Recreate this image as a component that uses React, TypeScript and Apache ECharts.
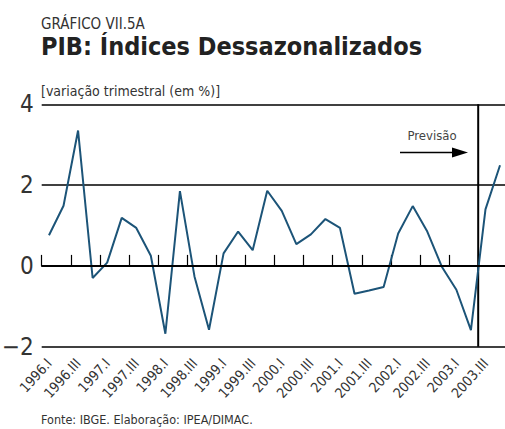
import React, { useEffect, useRef } from "react";
import * as echarts from "echarts";

const quarters = [
  "1996.I", "1996.II", "1996.III", "1996.IV",
  "1997.I", "1997.II", "1997.III", "1997.IV",
  "1998.I", "1998.II", "1998.III", "1998.IV",
  "1999.I", "1999.II", "1999.III", "1999.IV",
  "2000.I", "2000.II", "2000.III", "2000.IV",
  "2001.I", "2001.II", "2001.III", "2001.IV",
  "2002.I", "2002.II", "2002.III", "2002.IV",
  "2003.I", "2003.II", "2003.III", "2003.IV",
];

const pibValues = [
  0.76, 1.49, 3.35, -0.3, 0.08, 1.19, 0.94, 0.25,
  -1.68, 1.85, -0.26, -1.58, 0.31, 0.85, 0.39, 1.86,
  1.36, 0.54, 0.78, 1.16, 0.94, -0.69, -0.61, -0.52,
  0.8, 1.48, 0.85, -0.02, -0.59, -1.59, 1.4, 2.49,
];

// boundary before 2003.III (forecast start), in category-index units
const forecastBoundary = [29.5];

const yTicks = { min: -2, max: 4, interval: 2 };

const NARROW = "'DejaVu Sans Condensed', 'Liberation Sans Narrow', sans-serif";

export default function App() {
  const ref = useRef<HTMLDivElement>(null);

  useEffect(() => {
    if (!ref.current) return;
    const chart = echarts.init(ref.current, undefined, { renderer: "svg" });
    const gridLeft = 41.7;
    const gridTop = 104.3;
    const gridHeight = 242.4;
    const gridWidth = 465.6;

    chart.setOption({
      animation: false,
      backgroundColor: "#ffffff",
      grid: {
        left: gridLeft,
        top: gridTop,
        width: gridWidth,
        height: gridHeight,
        containLabel: false,
        outerBoundsMode: "none",
      },
      xAxis: [
        {
          type: "category",
          data: quarters,
          boundaryGap: true,
          axisLine: { show: true, lineStyle: { color: "#000", width: 1.5 } },
          axisTick: {
            show: true,
            inside: true,
            length: 11,
            interval: 1,
            lineStyle: { color: "#000", width: 1.2 },
          },
          axisLabel: {
            show: true,
            interval: 1,
            rotate: 48,
            margin: 14,
            fontFamily: NARROW,
            fontSize: 14,
            color: "#333",
          },
          splitLine: { show: false },
        },
        {
          type: "value",
          min: -0.5,
          max: 31.5,
          position: "bottom",
          show: false,
        },
      ],
      yAxis: {
        type: "value",
        min: yTicks.min,
        max: yTicks.max,
        interval: yTicks.interval,
        axisLine: { show: false },
        axisTick: { show: false },
        axisLabel: {
          margin: 8,
          fontFamily: NARROW,
          fontSize: 24,
          color: "#333",
          formatter: (v: number) => (v < 0 ? "\u2212" + Math.abs(v) : String(v)),
        },
        splitLine: {
          show: true,
          lineStyle: { color: "#000", width: 1.5 },
        },
      },
      graphic: [
        {
          type: "text",
          left: 41,
          top: 16,
          style: {
            text: "GRÁFICO VII.5A",
            fontFamily: NARROW,
            fontSize: 15,
            lineHeight: 15,
            fill: "#333",
          },
        },
        {
          type: "text",
          left: 41,
          top: 34,
          style: {
            text: "PIB: Índices Dessazonalizados",
            fontFamily: "'DejaVu Sans Condensed', sans-serif",
            fontWeight: "bold",
            fontSize: 25,
            lineHeight: 25,
            fill: "#222",
          },
        },
        {
          type: "text",
          left: 41,
          top: 84,
          style: {
            text: "[variação trimestral (em %)]",
            fontFamily: NARROW,
            fontSize: 14,
            fill: "#333",
          },
        },
        {
          type: "text",
          x: 432,
          y: 135,
          style: {
            text: "Previsão",
            fontFamily: NARROW,
            fontSize: 13,
            fill: "#444",
            align: "center",
            verticalAlign: "middle",
          },
        },
        {
          type: "line",
          shape: { x1: 400, y1: 152.5, x2: 455, y2: 152.5 },
          style: { stroke: "#000", lineWidth: 1.5 },
        },
        {
          type: "polygon",
          shape: { points: [[452, 147.5], [468, 152.5], [452, 157.5]] },
          style: { fill: "#000" },
        },
        {
          type: "text",
          left: 41,
          top: 413,
          style: {
            text: "Fonte: IBGE. Elaboração: IPEA/DIMAC.",
            fontFamily: NARROW,
            fontSize: 12.5,
            fill: "#333",
          },
        },
      ],
      series: [
        {
          type: "line",
          xAxisIndex: 1,
          data: [
            [forecastBoundary[0], yTicks.min],
            [forecastBoundary[0], yTicks.max],
          ],
          symbol: "none",
          silent: true,
          lineStyle: { color: "#000", width: 2 },
          z: 2,
        },
        {
          type: "line",
          xAxisIndex: 0,
          data: pibValues,
          symbol: "none",
          lineStyle: { color: "#1c5478", width: 2 },
          markLine: {
            silent: true,
            symbol: "none",
            label: { show: false },
            lineStyle: { color: "#000", width: 2, type: "solid" },
            data: [{ yAxis: 0 }],
          },
          z: 3,
        },
      ],
    });

    return () => chart.dispose();
  }, []);

  return (
    <div
      ref={ref}
      style={{ position: "absolute", left: 0, top: 0, width: 505, height: 429 }}
    />
  );
}
